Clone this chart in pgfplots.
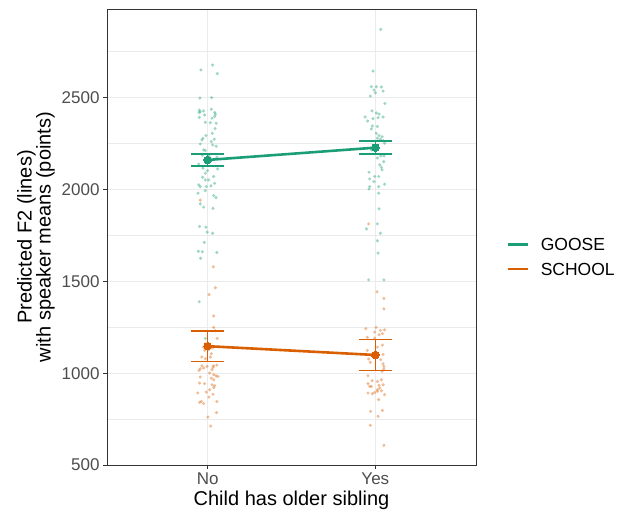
\documentclass[border=0pt]{standalone}
\usepackage{fontspec}
\setmainfont{Liberation Sans}
\usepackage{pgfplots}
\pgfplotsset{compat=1.18}
\usepackage{pgfplotstable}
\definecolor{goose}{HTML}{1B9E77}
\definecolor{school}{HTML}{D95F02}
\definecolor{gridc}{HTML}{EBEBEB}
\definecolor{tickc}{HTML}{4D4D4D}
\definecolor{framec}{HTML}{333333}

\pgfplotstableread{
x y
0.960 2651
1.030 2678
1.057 2631
0.954 2498
1.024 2500
0.950 2433
0.956 2424
0.976 2428
0.949 2419
1.022 2437
1.042 2420
1.046 2410
0.982 2406
0.950 2393
1.026 2388
1.042 2397
1.016 2364
1.051 2361
0.986 2366
1.044 2332
1.028 2306
0.972 2279
0.966 2270
0.990 2294
1.040 2274
1.022 2261
0.956 2248
0.976 2216
0.986 2212
1.030 2243
1.051 2236
0.968 2187
1.008 2183
1.055 2176
0.947 2139
0.972 2116
1.000 2103
1.059 2112
0.986 2089
0.970 2067
1.006 2052
1.036 2071
0.986 2052
1.042 2034
0.947 2025
0.956 2016
0.992 2016
1.020 2020
0.986 1994
0.943 1980
1.036 1967
1.050 1956
0.956 1922
0.976 1904
1.032 1897
0.952 1799
0.990 1795
0.998 1768
1.030 1762
0.980 1712
0.945 1664
0.968 1661
1.055 1657
0.958 1626
0.950 1389
0.986 1189
2.032 2872
1.986 2645
1.976 2560
2.006 2560
2.036 2558
1.992 2542
2.046 2536
2.000 2527
1.970 2509
2.057 2469
1.980 2428
2.006 2417
2.022 2411
1.939 2395
2.046 2395
1.986 2386
2.016 2391
1.954 2373
1.982 2346
2.012 2343
1.976 2330
2.006 2306
2.022 2294
2.040 2288
2.012 2279
2.030 2274
2.046 2266
2.055 2252
1.986 2216
2.006 2212
1.976 2216
2.051 2183
2.032 2183
2.012 2172
2.050 2152
2.026 2134
2.036 2121
2.040 2107
1.962 2094
1.996 2071
2.020 2071
1.966 2058
1.992 2043
2.055 2029
2.020 2016
1.966 2016
1.962 2003
2.020 1980
2.022 1895
2.012 1813
1.947 1786
2.030 1762
2.012 1721
2.016 1654
1.960 1508
2.051 1508
}\goosepts

\pgfplotstableread{
x y
0.956 1942
1.034 1579
1.046 1465
1.008 1428
1.036 1312
1.036 1249
1.046 1231
1.057 1189
0.986 1160
1.012 1153
0.976 1142
1.028 1137
0.982 1124
1.006 1127
1.022 1106
0.966 1088
0.986 1079
1.016 1088
1.055 1044
1.036 1040
1.032 1033
0.966 1040
0.996 1037
0.956 1024
0.976 1028
0.949 1015
1.026 1019
1.036 992
1.050 986
1.061 982
1.012 1001
1.022 973
1.036 964
0.956 979
1.026 937
1.042 932
0.952 946
0.982 943
1.036 921
1.012 910
0.992 897
0.941 892
1.032 885
1.008 870
0.962 846
0.952 841
0.976 834
1.055 846
1.053 785
1.002 761
1.018 712
1.960 1813
2.010 1443
2.051 1407
2.051 1350
1.943 1242
2.004 1249
1.996 1224
2.030 1233
2.055 1236
2.042 1215
2.022 1209
1.952 1195
1.996 1191
2.042 1153
2.012 1142
1.952 1124
2.046 1102
1.986 1106
1.960 1077
1.970 1059
2.032 1073
2.051 1037
2.046 1051
2.050 1022
2.040 1010
1.956 986
1.980 959
2.012 955
2.036 964
1.956 943
1.966 928
1.976 928
2.022 934
2.046 937
2.026 919
2.012 910
1.956 892
1.982 888
1.996 895
2.012 901
2.036 904
2.055 883
2.020 856
1.972 792
2.042 797
2.016 765
1.970 716
2.051 607
}\schoolpts

\begin{document}
\begin{tikzpicture}
\begin{axis}[
  name=ax, at={(0,0)}, anchor=south west,
  scale only axis, width=369pt, height=456pt,
  xmin=0.4, xmax=2.6, ymin=500, ymax=2983,
  xtick={1,2}, xticklabels={No,Yes},
  ytick={500,1000,1500,2000,2500},
  minor ytick={750,1250,1750,2250,2750},
  grid=both,
  major grid style={gridc, line width=0.9pt},
  minor grid style={gridc, line width=0.6pt},
  axis line style={framec, line width=0.9pt},
  tick style={framec, line width=0.9pt},
  major tick length=4pt, minor tick length=0pt,
  tick align=outside, tick pos=left,
  ticklabel style={font=\fontsize{17}{17}\selectfont, text=tickc},
  /pgf/number format/assume math mode=true,
  /pgf/number format/set thousands separator={},
  xlabel={Child has older sibling},
  ylabel={Predicted F2 (lines)\\with speaker means (points)},
  label style={font=\fontsize{20}{19}\selectfont},
  ylabel style={align=center},
  legend style={draw=none, fill=none, at={(axis description cs:1,0.457)}, anchor=west,
    xshift=27pt, font=\fontsize{17.5}{17.5}\selectfont,
    nodes={inner sep=0pt, text height=12.5pt, text depth=0pt},
    row sep=12pt,
    /tikz/every odd column/.append style={column sep=12pt}},
  legend cell align=left,
]
\addplot[only marks, mark=*, mark size=1.7pt, color=goose, fill=goose, draw opacity=0, fill opacity=0.42, forget plot] table {\goosepts};
\addplot[only marks, mark=*, mark size=1.7pt, color=school, fill=school, draw opacity=0, fill opacity=0.42, forget plot] table {\schoolpts};
% error bars GOOSE
\addplot[goose, line width=1.6pt, forget plot] coordinates {(1,2128) (1,2195)};
\addplot[goose, line width=1.6pt, forget plot] coordinates {(0.9,2128) (1.1,2128)};
\addplot[goose, line width=1.6pt, forget plot] coordinates {(0.9,2195) (1.1,2195)};
\addplot[goose, line width=1.6pt, forget plot] coordinates {(2,2192) (2,2264)};
\addplot[goose, line width=1.6pt, forget plot] coordinates {(1.9,2192) (2.1,2192)};
\addplot[goose, line width=1.6pt, forget plot] coordinates {(1.9,2264) (2.1,2264)};
% error bars SCHOOL
\addplot[school, line width=1.6pt, forget plot] coordinates {(1,1064) (1,1231)};
\addplot[school, line width=1.6pt, forget plot] coordinates {(0.9,1064) (1.1,1064)};
\addplot[school, line width=1.6pt, forget plot] coordinates {(0.9,1231) (1.1,1231)};
\addplot[school, line width=1.6pt, forget plot] coordinates {(2,1015) (2,1183)};
\addplot[school, line width=1.6pt, forget plot] coordinates {(1.9,1015) (2.1,1015)};
\addplot[school, line width=1.6pt, forget plot] coordinates {(1.9,1183) (2.1,1183)};
\addplot[color=goose, line width=2.6pt, mark=*, mark size=3.8pt, mark options={line width=0pt, fill=goose},
  legend image code/.code={\draw[goose, line width=2.6pt] (0pt,0pt) -- (20pt,0pt);}]
  coordinates {(1,2161) (2,2228)};
\addlegendentry{GOOSE}
\addplot[color=school, line width=2.6pt, mark=*, mark size=3.8pt, mark options={line width=0pt, fill=school},
  legend image code/.code={\draw[school, line width=2.6pt] (0pt,0pt) -- (20pt,0pt);}]
  coordinates {(1,1147) (2,1099)};
\addlegendentry{SCHOOL}
\end{axis}
\pgfresetboundingbox
\path[use as bounding box] ([shift={(-107pt,-48pt)}]ax.south west) rectangle ++(628pt,513pt);
\end{tikzpicture}
\end{document}
